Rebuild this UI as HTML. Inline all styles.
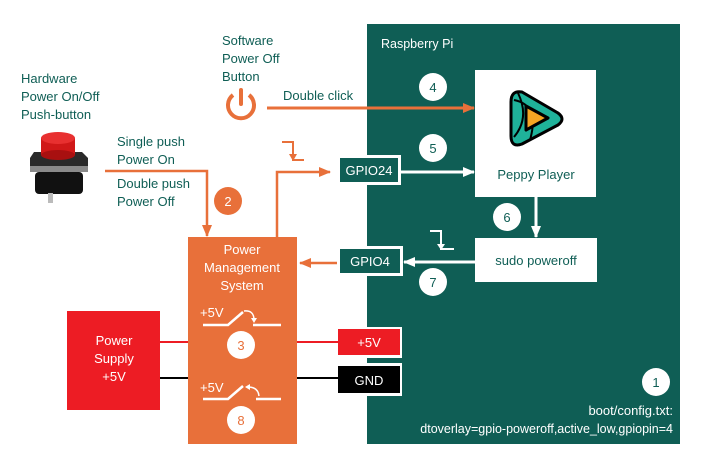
<!DOCTYPE html>
<html><head><style>
body{margin:0;width:704px;height:468px;background:#fff;overflow:hidden}
svg text{font-family:"Liberation Sans",sans-serif}
</style></head><body>
<svg width="704" height="468" viewBox="0 0 704 468">
<defs>
<marker id="ao" markerWidth="12" markerHeight="10" refX="11" refY="5" orient="auto" markerUnits="userSpaceOnUse"><path d="M0,0 L12,5 L0,10 Z" fill="#e8703a"/></marker>
<marker id="aw" markerWidth="12" markerHeight="10" refX="11" refY="5" orient="auto" markerUnits="userSpaceOnUse"><path d="M0,0 L12,5 L0,10 Z" fill="#fff"/></marker>
</defs>
<rect x="367" y="24" width="313" height="420" fill="#0f5e55"/>
<text x="381" y="48" font-size="12.5" fill="#fff">Raspberry Pi</text>
<!-- peppy box -->
<rect x="475" y="70" width="121" height="127" fill="#fff"/>
<path d="M522,92 Q511,90 511,102 L511,136 Q511,148 522,144 L558,125 Q566,119 558,113 Z" fill="#1fb29a" stroke="#000" stroke-width="3" stroke-linejoin="round"/>
<path d="M514,100 Q540,105 530,140 M518,93 Q530,118 514,137" stroke="#000" stroke-width="2" fill="none"/>
<path d="M526,106 L548,118 L526,130 Z" fill="#f5a623" stroke="#000" stroke-width="3" stroke-linejoin="round"/>
<text x="536" y="179" font-size="13" fill="#0f5e55" text-anchor="middle">Peppy Player</text>
<rect x="475" y="238" width="122" height="44" fill="#fff"/>
<text x="536" y="265" font-size="13" fill="#0f5e55" text-anchor="middle">sudo poweroff</text>
<!-- GPIO boxes -->
<rect x="337" y="155" width="64" height="30" fill="#fff"/><rect x="340" y="158" width="58" height="24" fill="#0f5e55"/>
<text x="369" y="175" font-size="13" fill="#fff" text-anchor="middle">GPIO24</text>
<rect x="337" y="246" width="66" height="30" fill="#fff"/><rect x="340" y="249" width="60" height="24" fill="#0f5e55"/>
<text x="370" y="266" font-size="13" fill="#fff" text-anchor="middle">GPIO4</text>
<rect x="337" y="327" width="65" height="31" fill="#fff"/><rect x="338" y="329" width="62" height="26" fill="#ed1c24"/>
<text x="369" y="347" font-size="13" fill="#fff" text-anchor="middle">+5V</text>
<rect x="337" y="363" width="65" height="33" fill="#fff"/><rect x="338" y="366" width="62" height="27" fill="#000"/>
<text x="369" y="385" font-size="13" fill="#fff" text-anchor="middle">GND</text>
<!-- white arrows -->
<line x1="401" y1="172" x2="474" y2="172" stroke="#fff" stroke-width="3" marker-end="url(#aw)"/>
<line x1="536" y1="197" x2="536" y2="237" stroke="#fff" stroke-width="3" marker-end="url(#aw)"/>
<line x1="475" y1="262" x2="404" y2="262" stroke="#fff" stroke-width="3" marker-end="url(#aw)"/>
<path d="M430,231 H441 V249 H454" stroke="#fff" stroke-width="2" fill="none"/>
<path d="M437,244 L441,250 L445,244" fill="#fff"/>
<!-- circles -->
<g font-size="13" text-anchor="middle">
<circle cx="433" cy="87" r="14" fill="#fff"/><text x="433" y="92" fill="#0f5e55">4</text>
<circle cx="433" cy="148" r="14" fill="#fff"/><text x="433" y="153" fill="#0f5e55">5</text>
<circle cx="507" cy="217" r="14" fill="#fff"/><text x="507" y="222" fill="#0f5e55">6</text>
<circle cx="433" cy="282" r="14" fill="#fff"/><text x="433" y="287" fill="#0f5e55">7</text>
<circle cx="656" cy="382" r="14" fill="#fff"/><text x="656" y="387" fill="#0f5e55">1</text>
</g>
<text x="673" y="415" font-size="13" fill="#fff" text-anchor="end">boot/config.txt:</text>
<text x="673" y="433" font-size="12.5" fill="#fff" text-anchor="end">dtoverlay=gpio-poweroff,active_low,gpiopin=4</text>
<!-- power lines -->
<line x1="160" y1="342" x2="338" y2="342" stroke="#ed1c24" stroke-width="2"/>
<line x1="160" y1="378" x2="338" y2="378" stroke="#000" stroke-width="2"/>
<rect x="67" y="311" width="93" height="99" fill="#ed1c24"/>
<g font-size="13" fill="#fff" text-anchor="middle"><text x="114" y="345">Power</text><text x="114" y="363">Supply</text><text x="114" y="381">+5V</text></g>
<!-- PMS -->
<rect x="188" y="237" width="109" height="207" fill="#e8703a"/>
<g font-size="13" fill="#fff" text-anchor="middle"><text x="242" y="254">Power</text><text x="242" y="272">Management</text><text x="242" y="290">System</text></g>
<text x="200" y="317" font-size="13" fill="#fff">+5V</text>
<path d="M203,325 H228 L243,312 M253,325 H281" stroke="#fff" stroke-width="2.5" fill="none"/>
<path d="M244,311 Q254,310 254,320" stroke="#fff" stroke-width="1.5" fill="none"/><path d="M251,318 L254,323 L257,318Z" fill="#fff"/>
<circle cx="241" cy="345" r="14" fill="#fff"/><text x="241" y="350" font-size="13" fill="#e8703a" text-anchor="middle">3</text>
<text x="200" y="392" font-size="13" fill="#fff">+5V</text>
<path d="M203,399 H228 L243,386 M256,399 H281" stroke="#fff" stroke-width="2.5" fill="none"/>
<path d="M248,387 Q258,387 259,396" stroke="#fff" stroke-width="1.5" fill="none"/><path d="M245,387 L250,384 L250,390Z" fill="#fff"/>
<circle cx="241" cy="420" r="14" fill="#fff"/><text x="241" y="425" font-size="13" fill="#e8703a" text-anchor="middle">8</text>
<!-- orange connectors -->
<line x1="267" y1="108" x2="474" y2="108" stroke="#e8703a" stroke-width="3" marker-end="url(#ao)"/>
<path d="M105,171 H207 V236" stroke="#e8703a" stroke-width="2.5" fill="none" marker-end="url(#ao)"/>
<path d="M277,237 V172 H330" stroke="#e8703a" stroke-width="2.5" fill="none" marker-end="url(#ao)"/>
<line x1="337" y1="263" x2="300" y2="263" stroke="#e8703a" stroke-width="2.5" marker-end="url(#ao)"/>
<path d="M282,142 H293 V160 H304" stroke="#e8703a" stroke-width="2" fill="none"/>
<path d="M289,154 L293,161 L297,154Z" fill="#e8703a"/>
<circle cx="228" cy="201" r="14" fill="#e8703a"/><text x="228" y="206" font-size="13" fill="#fff" text-anchor="middle">2</text>
<!-- power icon -->
<path d="M233,95 A13,13 0 1 0 249,95" stroke="#e8703a" stroke-width="4" fill="none"/>
<line x1="241" y1="90" x2="241" y2="104" stroke="#e8703a" stroke-width="4" stroke-linecap="round"/>
<g font-size="13" fill="#0f5e55">
<text x="222" y="45">Software</text><text x="222" y="63">Power Off</text><text x="222" y="81">Button</text>
<text x="283" y="100">Double click</text>
<text x="21" y="83">Hardware</text><text x="21" y="101">Power On/Off</text><text x="21" y="119">Push-button</text>
<text x="117" y="146">Single push</text><text x="117" y="164">Power On</text>
<text x="117" y="188">Double push</text><text x="117" y="206">Power Off</text>
</g>
<!-- push button -->
<path d="M30,158 L34,152 H82 L88,158 V172 H30 Z" fill="#2a2a2a"/>
<rect x="30" y="166" width="58" height="6" fill="#8a8a8a"/>
<rect x="35" y="172" width="48" height="22" rx="4" fill="#111"/>
<rect x="48" y="193" width="5" height="10" fill="#bbb"/>
<rect x="41" y="138" width="34" height="17" fill="#d01818"/>
<ellipse cx="58" cy="138" rx="17" ry="6" fill="#e83030"/>
<ellipse cx="58" cy="155" rx="17" ry="5" fill="#a81010"/>
</svg>
</body></html>
